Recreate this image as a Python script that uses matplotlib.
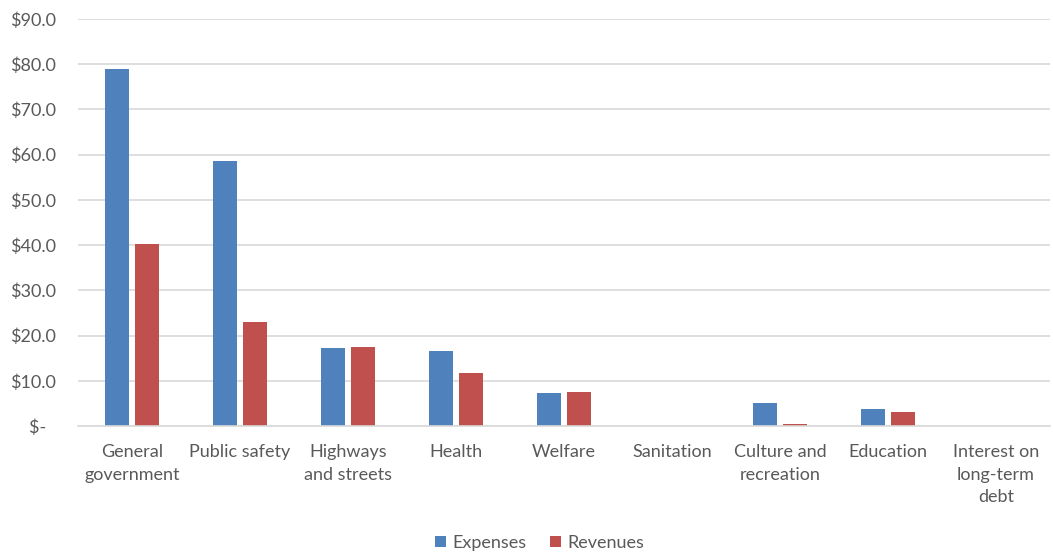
import matplotlib.pyplot as plt
import numpy as np
from matplotlib.ticker import FuncFormatter

categories = ['General\ngovernment', 'Public safety', 'Highways\nand streets',
              'Health', 'Welfare', 'Sanitation', 'Culture and\nrecreation',
              'Education', 'Interest on\nlong-term\ndebt']
expenses = [79.0, 58.6, 17.3, 16.6, 7.3, 0.0, 5.1, 3.7, 0.0]
revenues = [40.3, 23.0, 17.4, 11.7, 7.5, 0.0, 0.4, 3.2, 0.0]

plt.rcParams['font.family'] = ['Lato', 'DejaVu Sans']
text_color = '#595959'

fig = plt.figure(figsize=(10.53, 5.52), dpi=100)
ax = fig.add_axes([78 / 1053, 1 - 426 / 552, 972 / 1053, 407 / 552])

ind = np.arange(len(categories))
width = 0.23
ax.bar(ind - 0.139, expenses, width, color='#4F81BD', label='Expenses')
ax.bar(ind + 0.139, revenues, width, color='#C0504D', label='Revenues')

ax.set_xlim(-0.5, len(categories) - 0.5)
ax.set_ylim(0, 90)
ax.set_yticks(np.arange(0, 91, 10))
ax.yaxis.set_major_formatter(FuncFormatter(
    lambda v, p: '$-  ' if v == 0 else '${:.1f}'.format(v)))
ax.set_xticks(ind)
ax.set_xticklabels(categories, linespacing=1.5, va='top')

ax.grid(axis='y', color='#d9d9d9', linewidth=1.2)
ax.set_axisbelow(True)
for s in ['top', 'right', 'left']:
    ax.spines[s].set_visible(False)
ax.spines['bottom'].set_color('#d9d9d9')
ax.spines['bottom'].set_linewidth(1.2)
ax.tick_params(axis='both', length=0, labelsize=13, colors=text_color)
ax.tick_params(axis='y', pad=16)
ax.tick_params(axis='x', pad=13)

ax.legend(loc='lower center', bbox_to_anchor=(0.475, -0.325), ncol=2,
          frameon=False, fontsize=13, labelcolor=text_color,
          handlelength=0.6, handleheight=0.6, handletextpad=0.35,
          columnspacing=1.3, borderaxespad=0)

fig.savefig('out.png', dpi=100)
